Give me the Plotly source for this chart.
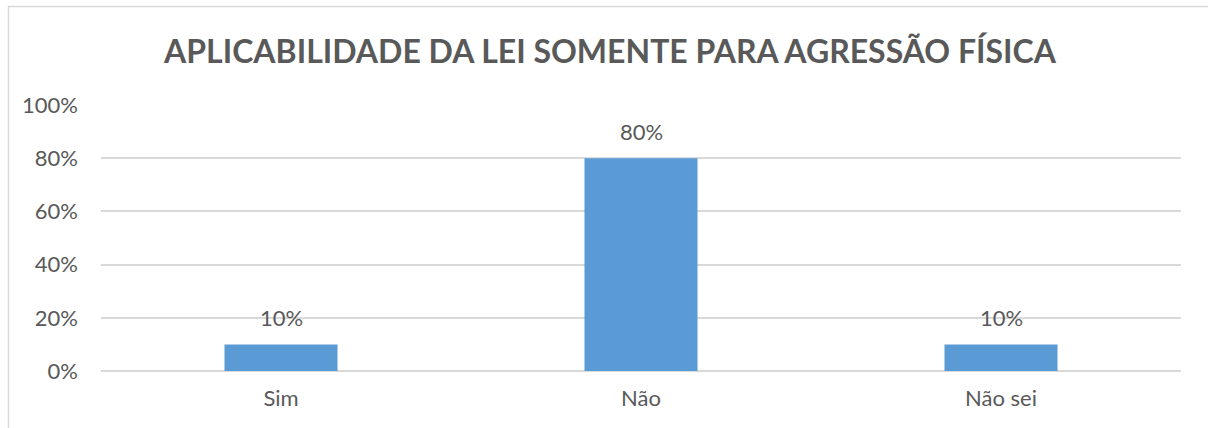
import plotly.graph_objects as go

categories = ["Sim", "Não", "Não sei"]
values = [10, 80, 10]
tick_vals = [0, 20, 40, 60, 80, 100]
tick_text = ["0%", "20%", "40%", "60%", "80%", "100%"]
title_text = "APLICABILIDADE DA LEI SOMENTE PARA AGRESSÃO FÍSICA"

FONT = "Lato"
GRAY = "#595959"

fig = go.Figure()
fig.add_trace(go.Bar(
    x=categories, y=values,
    marker=dict(color="#5B9BD5", line=dict(width=0)),
    width=0.314,
    hoverinfo="skip",
))

for c, v in zip(categories, values):
    fig.add_annotation(x=c, y=v, text=f"{v}%", showarrow=False,
                       yanchor="bottom", yshift=11,
                       font=dict(family=FONT, size=22, color=GRAY))

L, R, T, B = 101, 27, 105, 57
W, H = 1208, 428
pw, ph = W - L - R, H - T - B

def px(x):
    return (x - L) / pw

def py(y):
    return (H - B - y) / ph

border = dict(color="#D9D9D9", width=1.5)
# top edge of chart frame
fig.add_shape(type="line", xref="paper", yref="paper",
              x0=px(8), x1=px(W + 5), y0=py(6.5), y1=py(6.5),
              line=border, layer="below")
# left edge of chart frame
fig.add_shape(type="line", xref="paper", yref="paper",
              x0=px(8.5), x1=px(8.5), y0=py(6.5), y1=py(H + 5),
              line=border, layer="below")

fig.update_layout(
    width=W, height=H,
    margin=dict(l=L, r=R, t=T, b=B),
    paper_bgcolor="white", plot_bgcolor="white",
    showlegend=False,
    title=dict(text=f"<b>{title_text}</b>", x=610 / W, xanchor="center",
               y=1 - 52 / H, yanchor="middle",
               font=dict(family=FONT, size=32, color=GRAY)),
    font=dict(family=FONT, color=GRAY),
    xaxis=dict(showgrid=False, showline=False, ticks="",
               ticklabelstandoff=12,
               tickfont=dict(family=FONT, size=22, color=GRAY)),
    yaxis=dict(range=[0, 100], tickvals=tick_vals, ticktext=tick_text,
               showgrid=True, gridcolor="#D9D9D9", gridwidth=1.5,
               zeroline=True, zerolinecolor="#D9D9D9", zerolinewidth=1.5,
               showline=False, ticks="", ticklabelstandoff=22,
               tickfont=dict(family=FONT, size=22, color=GRAY)),
)

fig.write_html("out.html",
               config={"displayModeBar": False},
               post_script="document.body.style.margin='0px';document.body.style.overflow='hidden';")
